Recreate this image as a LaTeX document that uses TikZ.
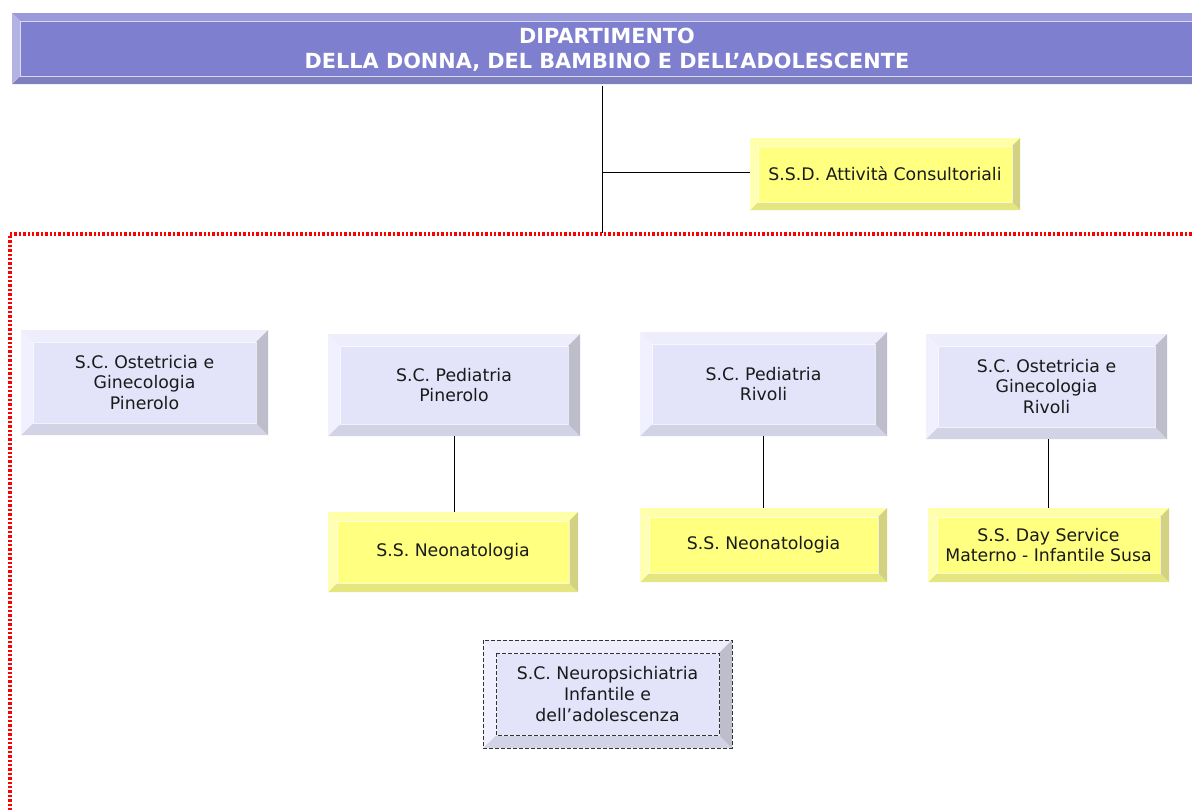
\documentclass[tikz,border=0pt]{standalone}
\usepackage{fontspec}
\setmainfont{DejaVu Sans}
\usetikzlibrary{calc}
\definecolor{hdface}{HTML}{7F7FCF}
\definecolor{hdtop}{HTML}{9999DB}
\definecolor{hdleft}{HTML}{B3B3E3}
\definecolor{hdright}{HTML}{7070B0}
\definecolor{hdbot}{HTML}{7F7FBF}
\definecolor{lavface}{HTML}{E3E3FA}
\definecolor{lavtop}{HTML}{EDEDFC}
\definecolor{lavleft}{HTML}{F0F0FF}
\definecolor{lavright}{HTML}{BDBDCC}
\definecolor{lavbot}{HTML}{D3D3E6}
\definecolor{yelface}{HTML}{FFFF80}
\definecolor{yeltop}{HTML}{FFFFA8}
\definecolor{yelleft}{HTML}{FFFFB3}
\definecolor{yelright}{HTML}{D2D280}
\definecolor{yelbot}{HTML}{E6E680}
\definecolor{txt}{HTML}{1A1A1A}
\tikzset{
  boxtext/.style={inner sep=0pt, outer sep=0pt, align=center, text=txt,
    font=\fontsize{17.3}{20.7}\selectfont},
  conn/.style={draw=black, line width=1pt},
  reddot/.style={draw=red, line width=3.2pt, dash pattern=on 2.4pt off 2pt},
}
\newcommand\bevbox[9][]{%
\pgfmathsetmacro\xa{#3+#7}\pgfmathsetmacro\xb{#5-#7}%
\pgfmathsetmacro\ya{#4+#7}\pgfmathsetmacro\yb{#6-#7}%
\pgfmathsetmacro\bw{#5-#3}\pgfmathsetmacro\bh{#6-#4}%
\fill[#8face] (\xa,\ya) rectangle (\xb,\yb);
\fill[#8top] (#3,#4) -- (#5,#4) -- (\xb,\ya) -- (\xa,\ya) -- cycle;
\fill[#8bot] (#3,#6) -- (#5,#6) -- (\xb,\yb) -- (\xa,\yb) -- cycle;
\fill[#8left] (#3,#4) -- (\xa,\ya) -- (\xa,\yb) -- (#3,#6) -- cycle;
\fill[#8right] (#5,#4) -- (\xb,\ya) -- (\xb,\yb) -- (#5,#6) -- cycle;
\draw[white, line width=0.8pt, opacity=0.7] (\xa,\ya) rectangle (\xb,\yb);
\node[boxtext, minimum width=\bw pt, minimum height=\bh pt, #1] (#2) at ({(#3+#5)/2},{(#4+#6)/2}) {#9};
}
\begin{document}
\begin{tikzpicture}[x=1pt, y=-1pt]
\useasboundingbox (0,0) rectangle (1192,809);
\fill[white] (0,0) rectangle (1192,809);
% header
\bevbox[text=white, font=\fontsize{20.8}{25}\selectfont\bfseries, yshift=-1.5pt]{dip}{12}{13}{1202}{84}{8}{hd}{DIPARTIMENTO\\DELLA DONNA, DEL BAMBINO E DELL’ADOLESCENTE}
% SSD
\bevbox{ssd}{750}{138}{1020}{210}{8}{yel}{S.S.D. Attività Consultoriali}
% junctions
\coordinate (hj) at (602,172);
\coordinate (hb) at (602,233);
\draw[conn] (dip.south -| hb) -- (hb);
\draw[conn] (hj) -- (hj -| ssd.west);
% red dotted frame
\draw[reddot] (1196,234) -- (10,234) -- (10,812);
% row 1
\bevbox{ostp}{21}{330}{268}{435}{12}{lav}{S.C. Ostetricia e\\Ginecologia\\Pinerolo}
\bevbox{pedp}{328}{334}{580}{436}{12}{lav}{S.C. Pediatria\\Pinerolo}
\bevbox{pedr}{640}{332}{887}{436}{12}{lav}{S.C. Pediatria\\Rivoli}
\bevbox{ostr}{926}{334}{1167}{439}{12}{lav}{S.C. Ostetricia e\\Ginecologia\\Rivoli}
% row 2
\bevbox{neop}{328}{512}{578}{592}{9}{yel}{S.S. Neonatologia}
\bevbox{neor}{640}{508}{887}{582}{9}{yel}{S.S. Neonatologia}
\bevbox{days}{928}{508}{1169}{582}{9}{yel}{S.S. Day Service\\Materno - Infantile Susa}
% connectors
\draw[conn] (pedp.south) -- (pedp.south |- neop.north);
\draw[conn] (pedr.south) -- (pedr.south |- neor.north);
\draw[conn] (days.north |- ostr.south) -- (days.north);
% neuropsichiatria
\bevbox{npi}{483}{640}{732}{748}{13}{lav}{S.C. Neuropsichiatria\\Infantile e\\dell’adolescenza}
\draw[draw=black!80, line width=1pt, dash pattern=on 4pt off 2pt] (483,640) rectangle (732,748);
\draw[draw=black!80, line width=1pt, dash pattern=on 4pt off 2pt] (496,653) rectangle (719,735);
\end{tikzpicture}
\end{document}
